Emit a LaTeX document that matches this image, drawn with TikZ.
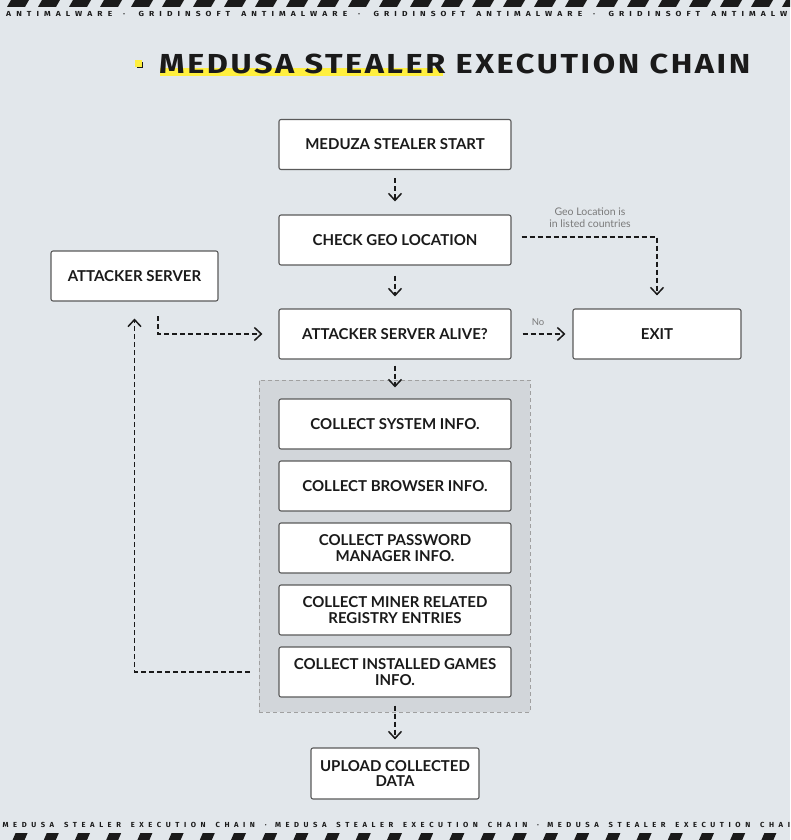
\documentclass[tikz,border=0pt]{standalone}
\usepackage{fontspec}
\usepackage{graphicx}
\setmainfont{Lato}
\newfontfamily\titlefont{Fira Sans}[LetterSpace=8]
\newfontfamily\stripfont{Fira Sans}
\makeatletter
\newcommand{\spw}[1]{\@tfor\spwc:=#1\do{\spwc\kern0.6em}}
\makeatother
\newcommand{\wsp}{\hspace{0.7em}}
\usetikzlibrary{arrows.meta}
\definecolor{bg}{HTML}{E2E7EB}
\definecolor{ink}{HTML}{1A1A1A}
\definecolor{boxborder}{HTML}{5A5A5A}
\definecolor{regionfill}{HTML}{D2D6DA}
\definecolor{regionborder}{HTML}{A0A0A0}
\definecolor{hl}{HTML}{FFEF3E}
\definecolor{lblgray}{HTML}{7A7A7A}
\begin{document}
\begin{tikzpicture}[x=1pt,y=-1pt,
  box/.style={draw=boxborder, line width=1.1pt, fill=white, rounded corners=2pt,
    minimum width=232pt, minimum height=50pt, align=center, inner sep=2pt,
    text=ink, font=\fontsize{15}{15.5}\selectfont\bfseries},
  region/.style={draw=regionborder, line width=0.7pt, dash pattern=on 4pt off 3pt,
    fill=regionfill, minimum width=271pt, minimum height=332pt, inner sep=0},
  flow/.style={draw=ink, line width=1.7pt, dash pattern=on 5pt off 3pt,
    -{Straight Barb[length=7pt,width=13pt,line width=1.5pt]}},
  lbl/.style={text=lblgray, align=center, inner sep=0,
    font=\fontsize{10.5}{12}\selectfont}
]
\useasboundingbox (0,0) rectangle (790,840);
\fill[bg] (0,0) rectangle (790,840);

% stripes and ribbon texts
\begin{scope}
\clip (0,0) rectangle (790,840);
\foreach \k in {0,...,25}
  \fill[ink] ({7+31*\k},7) -- ++(18,0) -- ++(4,-7) -- ++(-18,0) -- cycle;
\foreach \k in {0,...,25}
  \fill[ink] ({12.6+31.2*\k},840) -- ++(12,0) -- ++(3,-7) -- ++(-12,0) -- cycle;
\foreach \k in {-1,...,3}
  \node[anchor=base west, inner sep=0, text=ink] at ({138.5+235*\k},17)
    {\resizebox{221.5pt}{5.2pt}{\stripfont\bfseries\spw{GRIDINSOFT}\wsp\spw{ANTIMALWARE}\wsp·}};
\foreach \k in {0,...,2}
  \node[anchor=base west, inner sep=0, text=ink] at ({2.5+272.3*\k},827.5)
    {\resizebox{264pt}{5.2pt}{\stripfont\bfseries\spw{MEDUSA}\wsp\spw{STEALER}\wsp\spw{EXECUTION}\wsp\spw{CHAIN}\wsp·}};
\end{scope}

% title
\fill[ink] (136.5,62) rectangle (143.2,68.5);
\fill[hl] (135,60) rectangle (141.7,66.7);
\fill[hl] (160,68) rectangle (443,76);
\node[anchor=south west, inner sep=0, text=ink] (title) at (159,74.5)
  {\resizebox{591pt}{19.5pt}{\titlefont\bfseries MEDUSA STEALER EXECUTION CHAIN}};

% region
\node[region] (grp) at (394.5,546) {};

% boxes
\node[box] (start) at (395,144.5) {MEDUZA STEALER START};
\node[box] (geo) at (395,240) {CHECK GEO LOCATION};
\node[box, minimum width=167pt] (srv) at (134.5,276) {ATTACKER SERVER};
\node[box] (alive) at (395,334) {ATTACKER SERVER ALIVE?};
\node[box, minimum width=168pt] (exit) at (657,334) {EXIT};
\node[box] (sys) at (395,424) {COLLECT SYSTEM INFO.};
\node[box] (brw) at (395,486) {COLLECT BROWSER INFO.};
\node[box] (pwd) at (395,548) {COLLECT PASSWORD\\MANAGER INFO.};
\node[box] (mnr) at (395,610) {COLLECT MINER RELATED\\REGISTRY ENTRIES};
\node[box] (gms) at (395,672) {COLLECT INSTALLED GAMES\\INFO.};
\node[box, minimum width=168pt, minimum height=51pt] (upl) at (395,773.5) {UPLOAD COLLECTED\\DATA};

% labels
\node[lbl] (geolbl) at (590,217.5) {Geo Location is\\in listed countries};
\node[lbl, font=\fontsize{9.5}{11}\selectfont] (nolbl) at (538,322) {No};

% connectors
\draw[flow, shorten <=8pt, shorten >=13pt] (start) -- (geo);
\draw[flow, shorten <=10pt, shorten >=12pt] (geo) -- (alive);
\draw[flow, shorten <=6pt, shorten >=11pt] (alive) -- (sys);
\draw[flow, shorten <=8pt, shorten >=8pt] (gms) -- (upl);
\draw[flow, shorten <=10pt, shorten >=13pt] ([yshift=3pt]geo.east) -| (exit.north);
\draw[flow, shorten <=11pt, shorten >=7pt] (alive) -- (exit);
\coordinate (srvout) at (158,316);
\draw[flow, shorten >=16pt] (srvout) |- (alive.west);
\draw[flow, shorten <=9pt, shorten >=17pt] (grp.west |- gms) -| (srv.south);
\end{tikzpicture}
\end{document}
